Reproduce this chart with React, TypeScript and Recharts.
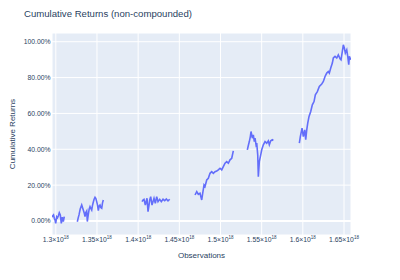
import { LineChart, Line, XAxis, YAxis, CartesianGrid, ReferenceLine } from 'recharts'

// x: observation timestamps (ns), y: cumulative return in %, null = gap between periods
const observations = [
  // period 1
  1.29538e18, 1.29636e18, 1.29721e18, 1.29818e18, 1.29903e18, 1.29988e18, 1.30109e18, 1.30206e18,
  1.30304e18, 1.30425e18, 1.30547e18, 1.30607e18, 1.30668e18, 1.30789e18, 1.30911e18, 1.31032e18,
  1.318e18,
  // period 2
  1.32611e18, 1.32721e18, 1.32818e18, 1.32964e18, 1.33146e18, 1.33243e18, 1.3334e18, 1.33449e18,
  1.33547e18, 1.33644e18, 1.33753e18, 1.33826e18, 1.33947e18, 1.34057e18, 1.34154e18, 1.34251e18,
  1.3436e18, 1.34445e18, 1.34518e18, 1.3464e18, 1.34761e18, 1.34858e18, 1.34968e18, 1.35065e18,
  1.35162e18, 1.35271e18, 1.35369e18, 1.35466e18, 1.35575e18, 1.35672e18, 1.35769e18,
  1.38e18,
  // period 3
  1.4047e18, 1.40591e18, 1.40713e18, 1.40871e18, 1.41077e18, 1.41199e18, 1.4132e18, 1.41405e18,
  1.41526e18, 1.41685e18, 1.41806e18, 1.41927e18, 1.42085e18, 1.42255e18, 1.42413e18, 1.4262e18,
  1.42814e18, 1.43021e18, 1.43227e18, 1.43421e18, 1.43628e18, 1.43834e18,
  1.455e18,
  // period 4
  1.46907e18, 1.47114e18, 1.47308e18, 1.47515e18, 1.47721e18, 1.47843e18, 1.48001e18, 1.48122e18,
  1.48328e18, 1.48523e18, 1.48729e18, 1.48936e18, 1.4913e18, 1.49337e18, 1.49543e18, 1.49737e18,
  1.49944e18, 1.5015e18, 1.50344e18, 1.50551e18, 1.50758e18, 1.50952e18, 1.51158e18, 1.51365e18,
  1.51559e18,
  1.524e18,
  // period 5
  1.5326e18, 1.53381e18, 1.53503e18, 1.53624e18, 1.53709e18, 1.53794e18, 1.53867e18, 1.53989e18,
  1.5411e18, 1.54195e18, 1.54317e18, 1.54402e18, 1.54523e18, 1.54596e18, 1.54717e18, 1.54887e18,
  1.55009e18, 1.55203e18, 1.55409e18, 1.55616e18, 1.5581e18, 1.55932e18, 1.56102e18, 1.56296e18,
  1.56418e18,
  1.58e18,
  // period 6
  1.59576e18, 1.59697e18, 1.59782e18, 1.59903e18, 1.60062e18, 1.60232e18, 1.60353e18, 1.60475e18,
  1.60596e18, 1.60754e18, 1.6096e18, 1.61154e18, 1.61361e18, 1.61519e18, 1.61762e18, 1.62005e18,
  1.62296e18, 1.62491e18, 1.62697e18, 1.62904e18, 1.63098e18, 1.6322e18, 1.63389e18, 1.63584e18,
  1.63705e18, 1.63911e18, 1.64118e18, 1.64312e18, 1.64519e18, 1.6464e18, 1.64798e18, 1.6492e18,
  1.65041e18, 1.65163e18, 1.65333e18, 1.65454e18, 1.65576e18, 1.65649e18, 1.65819e18,
]

const cumulativeReturns: (number | null)[] = [
  2.1, 3.0, 3.4, 1.5, 0.6, -1.3, 2.4, 1.8, 2.8, 4.6, 3.4, 1.0, -1.3, 2.1, -0.4, 2.4,
  null,
  -0.4, 1.7, 3.4, 6.7, 8.9, 7.5, 6.1, 4.5, 2.4, 4.7, 5.6, -0.3, 3.7, 6.7, 8.0, 7.0,
  6.1, 8.4, 9.9, 12.0, 13.2, 12.6, 10.8, 8.9, 5.8, 8.4, 8.9, 7.5, 7.1, 10.1, 11.7,
  null,
  10.8, 11.7, 12.1, 8.9, 12.7, 5.2, 8.9, 11.7, 13.6, 8.9, 10.8, 12.7, 9.9, 13.6, 10.8, 12.1,
  10.8, 12.1, 11.3, 12.3, 11.2, 12.1,
  null,
  14.5, 16.4, 14.9, 15.5, 11.7, 15.5, 20.1, 19.2, 22.9, 23.8, 26.6, 27.5, 26.6, 27.5, 27.9, 28.5,
  29.4, 28.5, 30.3, 32.2, 33.1, 32.2, 34.1, 35.0, 39.1,
  null,
  39.7, 42.1, 44.3, 47.1, 49.9, 48.0, 46.2, 48.0, 44.3, 46.2, 42.5, 43.4, 36.9, 24.7, 33.1, 36.9,
  39.7, 42.5, 44.3, 43.4, 44.7, 42.5, 44.7, 45.3, 44.9,
  null,
  43.4, 47.1, 49.0, 51.8, 47.1, 50.8, 45.3, 50.8, 54.6, 58.3, 61.1, 64.8, 66.6, 70.4, 72.2, 75.0,
  76.4, 77.8, 80.6, 82.5, 83.4, 82.5, 85.3, 88.1, 90.9, 91.8, 90.9, 92.7, 90.5, 89.9, 94.6, 98.3,
  96.5, 93.7, 95.5, 91.8, 87.2, 91.8, 89.9,
]

const xTicks = [1.3e18, 1.35e18, 1.4e18, 1.45e18, 1.5e18, 1.55e18, 1.6e18, 1.65e18]
const yTicks = [0, 20, 40, 60, 80, 100]

const FONT = '"Liberation Sans", Arial, sans-serif'
const TEXT = '#2a3f5f'

const data = observations.map((x, i) => ({ x, y: cumulativeReturns[i] }))

const SciTick = ({ x, y, payload }: any) => {
  const mantissa = Number((payload.value / 1e18).toPrecision(3))
  return (
    <text x={x} y={y + 6.7} textAnchor="middle" fontSize={6.8} fill={TEXT} fontFamily={FONT}>
      {`${mantissa}×10`}
      <tspan dy={-3} fontSize={4.5}>18</tspan>
    </text>
  )
}

export default function App() {
  return (
    <div style={{ position: 'absolute', left: 0, top: 0, width: 400, height: 280, background: '#fff' }}>
      <div
        style={{
          position: 'absolute',
          left: 24,
          top: 8.8,
          fontSize: 9.6,
          lineHeight: 1,
          fontFamily: FONT,
          color: TEXT,
          whiteSpace: 'nowrap',
        }}
      >
        Cumulative Returns (non-compounded)
      </div>
      <LineChart width={400} height={280} data={data} margin={{ top: 33, right: 49, bottom: 0, left: 0 }}>
        <CartesianGrid stroke="#fff" strokeWidth={1} fill="#E5ECF6" />
        <XAxis
          type="number"
          dataKey="x"
          domain={[1.29538e18, 1.6585e18]}
          ticks={xTicks}
          interval={0}
          allowDataOverflow
          axisLine={false}
          tickLine={false}
          tickSize={0}
          tickMargin={0}
          height={45}
          tick={<SciTick />}
          label={{ value: 'Observations', position: 'insideBottom', offset: 22, fill: TEXT, fontSize: 8, fontFamily: FONT }}
        />
        <YAxis
          type="number"
          domain={[-7.82, 104.86]}
          ticks={yTicks}
          interval={0}
          allowDataOverflow
          axisLine={false}
          tickLine={false}
          tickSize={0}
          tickMargin={1.5}
          width={52}
          tick={{ fontSize: 6.8, fill: TEXT, fontFamily: FONT }}
          tickFormatter={(v: number) => `${v.toFixed(2)}%`}
          label={{
            value: 'Cumulative Returns',
            angle: -90,
            position: 'insideLeft',
            offset: 12,
            fill: TEXT,
            fontSize: 8,
            fontFamily: FONT,
            style: { textAnchor: 'middle' },
          }}
        />
        <ReferenceLine y={0} stroke="#fff" strokeWidth={1.8} />
        <Line
          type="linear"
          dataKey="y"
          stroke="#636efa"
          strokeWidth={1.6}
          dot={false}
          activeDot={false}
          isAnimationActive={false}
        />
      </LineChart>
    </div>
  )
}
